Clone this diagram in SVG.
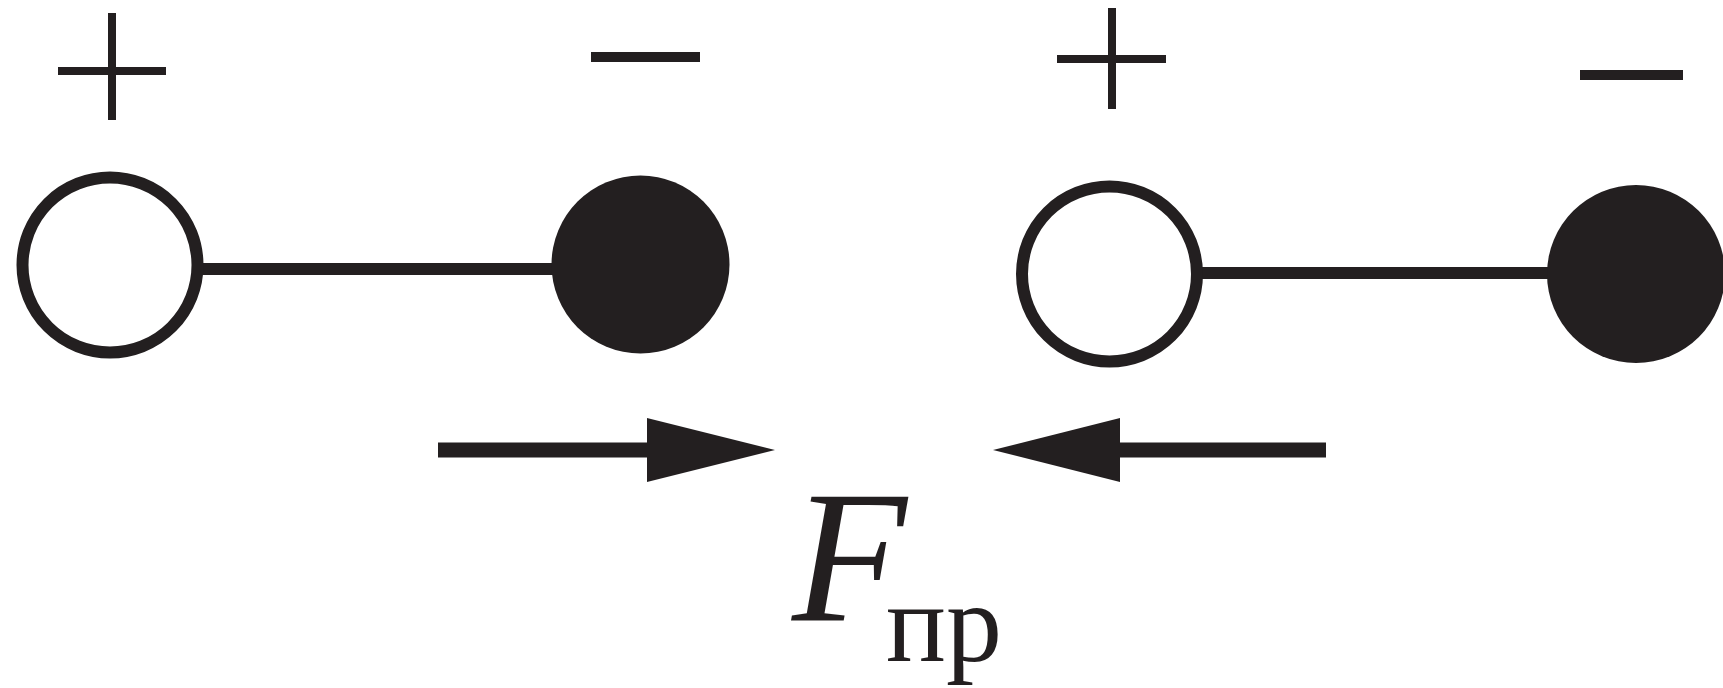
<svg xmlns="http://www.w3.org/2000/svg" width="1723" height="688" viewBox="0 0 1723 688">
<style>
.open{fill:#ffffff;stroke:#231f20;stroke-width:12}
.full{fill:#231f20;stroke:none}
.sign{stroke:#231f20;stroke-width:8;fill:none}
.minus{stroke:#231f20;stroke-width:10;fill:none}
.bond{stroke:#231f20;stroke-width:12;fill:none}
.shaft{stroke:#231f20;stroke-width:15;fill:none}
.head{fill:#231f20;stroke:none}
.lbl{font-family:"Liberation Serif","Times New Roman",serif;fill:#231f20}
</style>
<rect width="1723" height="688" fill="#ffffff"/>
<g id="connectors">
  <line class="bond" x1="200" y1="269" x2="560" y2="269"/>
  <line class="bond" x1="1200" y1="273" x2="1555" y2="273"/>
  <line class="shaft" x1="438" y1="450" x2="660" y2="450"/>
  <polygon class="head" points="647,418 775,450 647,482"/>
  <line class="shaft" x1="1326" y1="450" x2="1105" y2="450"/>
  <polygon class="head" points="1120,418 993,450 1120,482"/>
</g>
<g id="pos1">
  <circle class="open" cx="110" cy="265" r="87.5"/>
  <line class="sign" x1="112" y1="13" x2="112" y2="120"/>
  <line class="sign" x1="58" y1="71" x2="166" y2="71"/>
</g>
<g id="neg1">
  <circle class="full" cx="640.5" cy="264.5" r="89"/>
  <line class="minus" x1="591" y1="57" x2="700" y2="57"/>
</g>
<g id="pos2">
  <circle class="open" cx="1109.5" cy="274" r="87.5"/>
  <line class="sign" x1="1112" y1="8" x2="1112" y2="109"/>
  <line class="sign" x1="1057" y1="59" x2="1166" y2="59"/>
</g>
<g id="neg2">
  <circle class="full" cx="1636" cy="274" r="89"/>
  <line class="minus" x1="1580" y1="75" x2="1683" y2="75"/>
</g>
<g id="label">
  <text class="lbl" x="792" y="621" font-size="188"><tspan font-style="italic">F</tspan><tspan x="886" dy="40" font-size="112">пр</tspan></text>
</g>
</svg>
